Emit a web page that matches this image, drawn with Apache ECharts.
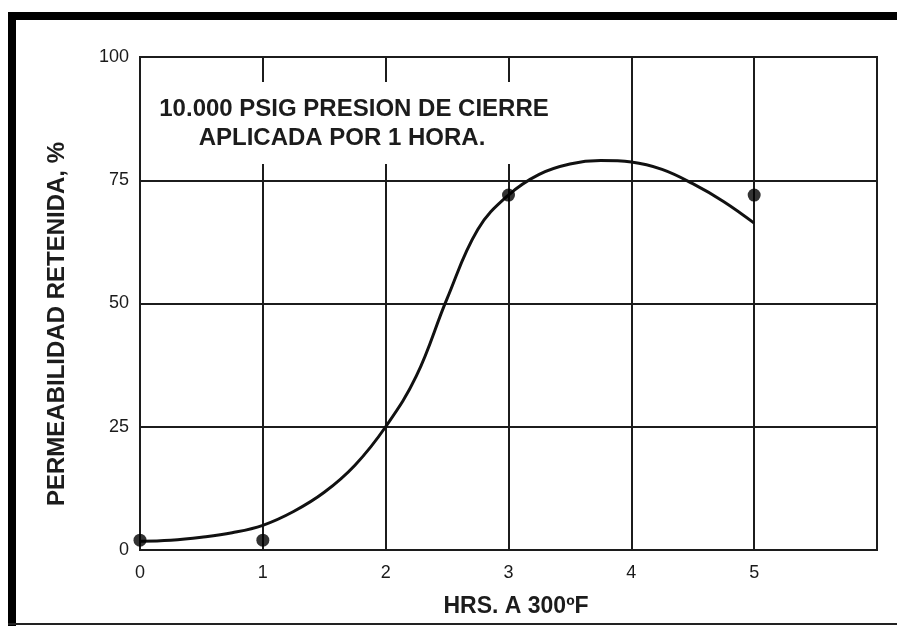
<!DOCTYPE html>
<html>
<head>
<meta charset="utf-8">
<script src="https://cdn.jsdelivr.net/npm/echarts@6/dist/echarts.min.js"></script>
<style>
  html, body { margin: 0; padding: 0; background: #fff; }
  #chart { width: 897px; height: 626px; }
</style>
</head>
<body>
<div id="chart"></div>
<script>
// Hours at 300 ºF and the fitted retained-permeability curve
const curveHours = [0, 0.25, 0.5, 0.75, 1.0, 1.25, 1.5, 1.75, 2.0, 2.25, 2.5, 2.75, 3.0, 3.25, 3.5, 3.75, 4.0, 4.25, 4.5, 4.75, 5.0];
const curvePerm  = [1.8, 2.0, 2.6, 3.5, 5.0, 7.8, 11.7, 17.2, 25, 35.3, 51, 65, 72, 76.2, 78.3, 79, 78.7, 77.2, 74.3, 70.7, 66.3];

// Measured points
const measuredHours = [0, 1, 3, 5];
const measuredPerm  = [2, 2, 72, 72];

// Axis ticks
const xTicks = [0, 1, 2, 3, 4, 5];
const yTicks = [0, 25, 50, 75, 100];

const noteLines = ['10.000 PSIG PRESION DE CIERRE', 'APLICADA POR 1 HORA.'];
const yTitle = 'PERMEABILIDAD RETENIDA, %';
const xTitle = 'HRS. A 300ºF';

const ink = '#1c1c1c';
const fam = '"Liberation Sans", Arial, sans-serif';
const bigFont = 'bold 24px ' + fam;

const chart = echarts.init(document.getElementById('chart'));

chart.setOption({
  backgroundColor: '#ffffff',
  animation: false,
  grid: {
    left: 140, right: 20, top: 57, bottom: 76,
    show: true, borderColor: ink, borderWidth: 2
  },
  xAxis: {
    type: 'value', min: 0, max: 6, interval: 1,
    axisLine: { show: true, lineStyle: { color: ink, width: 2 } },
    axisTick: { show: false },
    splitLine: { show: true, lineStyle: { color: ink, width: 2 } },
    axisLabel: {
      margin: 14, color: '#1a1a1a', fontFamily: fam, fontSize: 18,
      formatter: v => (xTicks.indexOf(v) >= 0 ? String(v) : '')
    }
  },
  yAxis: {
    type: 'value', min: 0, max: 100, interval: 25,
    axisLine: { show: true, lineStyle: { color: ink, width: 2 } },
    axisTick: { show: false },
    splitLine: { show: true, lineStyle: { color: ink, width: 2 } },
    axisLabel: {
      margin: 11, color: '#1a1a1a', fontFamily: fam, fontSize: 18,
      padding: [0, 0, 12, 0],
      formatter: v => (yTicks.indexOf(v) >= 0 ? String(v) : '')
    }
  },
  series: [
    {
      type: 'line',
      data: curveHours.map((h, i) => [h, curvePerm[i]]),
      smooth: 0.4,
      symbol: 'none',
      lineStyle: { color: '#111', width: 3 },
      z: 3
    },
    {
      type: 'scatter',
      data: measuredHours.map((h, i) => [h, measuredPerm[i]]),
      symbol: 'circle',
      symbolSize: 13,
      itemStyle: { color: '#000' },
      z: 4
    }
  ],
  graphic: [
    // page frame
    { type: 'rect', shape: { x: 8, y: 12, width: 889, height: 8 }, style: { fill: '#000' }, z: 10 },
    { type: 'rect', shape: { x: 8, y: 12, width: 8, height: 614 }, style: { fill: '#000' }, z: 10 },
    { type: 'rect', shape: { x: 8, y: 623, width: 889, height: 2 }, style: { fill: '#222' }, z: 10 },
    // note box
    { type: 'rect', shape: { x: 150, y: 82, width: 400, height: 82 }, style: { fill: '#fff' }, z: 10 },
    { type: 'text', x: 354, y: 109, z: 11,
      style: { text: noteLines[0], font: bigFont, fill: ink, align: 'center', verticalAlign: 'middle' } },
    { type: 'text', x: 342, y: 138, z: 11,
      style: { text: noteLines[1], font: bigFont, fill: ink, align: 'center', verticalAlign: 'middle' } },
    // axis titles
    { type: 'text', x: 57, y: 324, rotation: Math.PI / 2, z: 11,
      style: { text: yTitle, font: bigFont, fill: ink, align: 'center', verticalAlign: 'middle' } },
    { type: 'text', x: 516, y: 607, z: 11,
      style: { text: xTitle, font: 'bold 23px ' + fam, fill: ink, align: 'center', verticalAlign: 'middle' } }
  ]
});
</script>
</body>
</html>
